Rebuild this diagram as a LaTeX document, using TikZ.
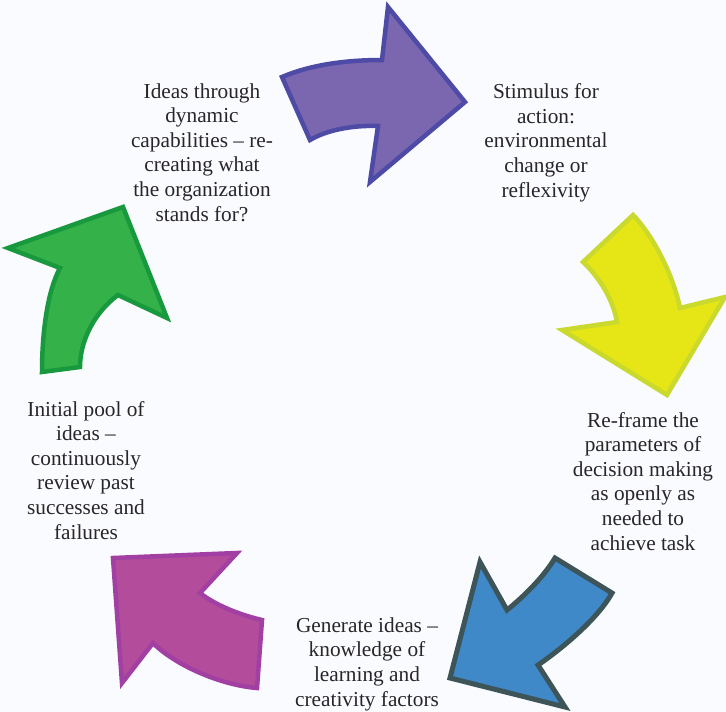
\documentclass[tikz,border=0pt]{standalone}
\usepackage{fontspec}
\setmainfont{Liberation Serif}
\definecolor{bgc}{RGB}{250,251,254}
\definecolor{txt}{RGB}{40,38,40}
\definecolor{purfill}{RGB}{123,102,176}
\definecolor{purline}{RGB}{78,75,166}
\definecolor{yelfill}{RGB}{230,229,22}
\definecolor{yelline}{RGB}{201,217,46}
\definecolor{blufill}{RGB}{63,137,201}
\definecolor{bluline}{RGB}{61,84,88}
\definecolor{magfill}{RGB}{180,76,156}
\definecolor{magline}{RGB}{162,63,163}
\definecolor{grnfill}{RGB}{53,177,74}
\definecolor{grnline}{RGB}{24,153,61}
\tikzset{
  bigarrow/.style={line width=4.5pt, line join=miter},
  label/.style={font=\fontsize{21.3}{24.6}\selectfont, text=txt, align=center, inner sep=0pt, anchor=base}
}
\begin{document}
\begin{tikzpicture}[x=1pt,y=-1pt]
\fill[bgc] (0,0) rectangle (726,712);
\useasboundingbox (0,0) rectangle (726,712);
% purple
\filldraw[bigarrow, fill=purfill, draw=purline]
  (282,77) .. controls (310,65) and (345,60) .. (382,60) -- (388,7) -- (465,102) -- (370,182) -- (378,126)
  .. controls (350,125) and (325,131) .. (310,140) -- cycle;
% yellow
\filldraw[bigarrow, fill=yelfill, draw=yelline]
  (583,262) -- (633,215) .. controls (650,232) and (672,270) .. (680,308) -- (725,297) -- (667,395) -- (562,330) -- (617,322)
  .. controls (613,300) and (600,278) .. cycle;
% blue
\filldraw[bigarrow, line width=5pt, fill=blufill, draw=bluline]
  (555,558) -- (612,593) .. controls (597,620) and (560,650) .. (538,665) -- (565,707) -- (450,678) -- (480,562) -- (507,610)
  .. controls (522,598) and (543,578) .. cycle;
% magenta
\filldraw[bigarrow, fill=magfill, draw=magline]
  (113,558) -- (237,553) -- (200,593) .. controls (215,605) and (240,615) .. (262,620) -- (257,688)
  .. controls (220,685) and (175,665) .. (153,643) -- (122,683) -- cycle;
% green
\filldraw[bigarrow, fill=grnfill, draw=grnline]
  (42,372) -- (80,367) .. controls (80,340) and (95,312) .. (118,295) -- (167,318) -- (123,207) -- (8,248) -- (60,268)
  .. controls (48,290) and (42,330) .. cycle;
% labels (anchor base = baseline of last line)
\node[label] (ideas) at (202,221) {Ideas through\\dynamic\\capabilities -- re-\\creating what\\the organization\\stands for?};
\node[label] (stim) at (546,197) {Stimulus for\\action:\\environmental\\change or\\reflexivity};
\node[label] (reframe) at (643,550) {Re-frame the\\parameters of\\decision making\\as openly as\\needed to\\achieve task};
\node[label] (gen) at (367,706) {Generate ideas --\\knowledge of\\learning and\\creativity factors};
\node[label] (pool) at (86,539) {Initial pool of\\ideas --\\continuously\\review past\\successes and\\failures};
\end{tikzpicture}
\end{document}
